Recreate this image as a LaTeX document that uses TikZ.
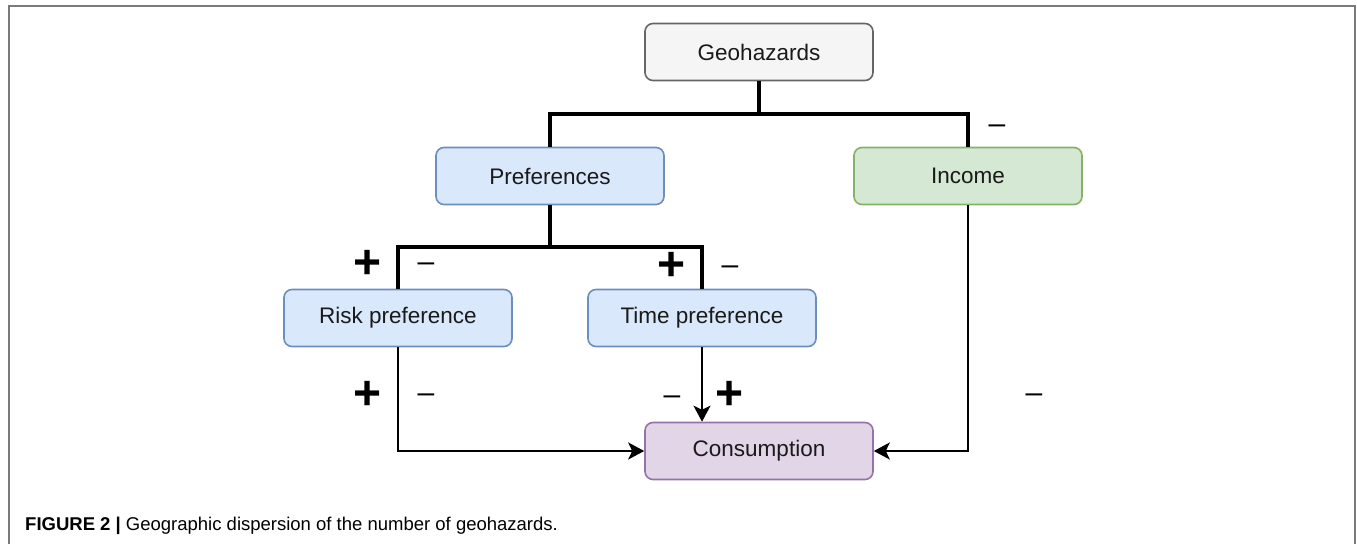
\documentclass[tikz,border=0pt]{standalone}
\usepackage{fontspec}
\setmainfont{Liberation Sans}
\usetikzlibrary{arrows.meta}
\definecolor{txt}{HTML}{1A1A1A}
\definecolor{geofill}{HTML}{F5F5F5}
\definecolor{geodraw}{HTML}{666666}
\definecolor{bluefill}{HTML}{DAE8FC}
\definecolor{bluedraw}{HTML}{6C8EBF}
\definecolor{greenfill}{HTML}{D5E8D4}
\definecolor{greendraw}{HTML}{82B366}
\definecolor{purplefill}{HTML}{E1D5E7}
\definecolor{purpledraw}{HTML}{9673A6}
\definecolor{framegray}{HTML}{7A7A7A}
\tikzset{
  box/.style={rectangle, rounded corners=8pt, minimum width=228pt, minimum height=57pt,
    line width=1.6pt, text=txt, font=\fontsize{22.5}{26}\selectfont, inner sep=0pt},
  bus/.style={line width=3.6pt, black},
  arr/.style={line width=2pt, black, -{Stealth[length=16pt,width=17pt,inset=4pt]}},
  plussign/.style={font=\fontsize{48}{48}\selectfont\bfseries, text=black, inner sep=0pt},
  minussign/.style={font=\fontsize{30}{30}\selectfont, text=black, inner sep=0pt, yshift=-3pt},
}
\begin{document}
\begin{tikzpicture}[x=1pt,y=-1pt]
\useasboundingbox (0,0) rectangle (1357,544);
\fill[white] (0,0) rectangle (1357,544);
\draw[framegray, line width=1.6pt] (9,544) -- (9,6) -- (1355,6) -- (1355,544);

\node[box, fill=geofill, draw=geodraw] (geo) at (759,52) {Geohazards};
\node[box, fill=bluefill, draw=bluedraw] (pref) at (550,176) {Preferences};
\node[box, fill=greenfill, draw=greendraw] (inc) at (968,176) {Income};
\node[box, fill=bluefill, draw=bluedraw] (risk) at (398,318) {Risk preference};
\node[box, fill=bluefill, draw=bluedraw] (time) at (702,318) {Time preference};
\node[box, fill=purplefill, draw=purpledraw] (cons) at (759,451) {Consumption};

\coordinate (j1) at (759,114);
\coordinate (j2) at (550,247);
\draw[bus] (geo.south) -- (j1);
\draw[bus] (pref.north) |- (j1) -| (inc.north);
\draw[bus] (pref.south) -- (j2);
\draw[bus] (risk.north) |- (j2) -| (time.north);

\draw[arr] (risk.south) |- (cons.west);
\draw[arr] (time.south) -- (time.south |- cons.north);
\draw[arr] (inc.south) |- (cons.east);

\node[minussign] (m0) at (997,126) {–};
\node[plussign] (p1) at (368,264) {+};
\node[minussign] (m1) at (426,264) {–};
\node[plussign] (p2) at (672,266) {+};
\node[minussign] (m2) at (730,267) {–};
\node[plussign] (p3) at (368,395) {+};
\node[minussign] (m3) at (426,395) {–};
\node[minussign] (m4) at (672,397) {–};
\node[plussign] (p4) at (730,395) {+};
\node[minussign] (m5) at (1034,395) {–};

\node[anchor=west, font=\fontsize{18.5}{22}\selectfont, text=black, inner sep=0pt] (cap) at (25,526)
  {\textbf{FIGURE 2 |} Geographic dispersion of the number of geohazards.};
\end{tikzpicture}
\end{document}
